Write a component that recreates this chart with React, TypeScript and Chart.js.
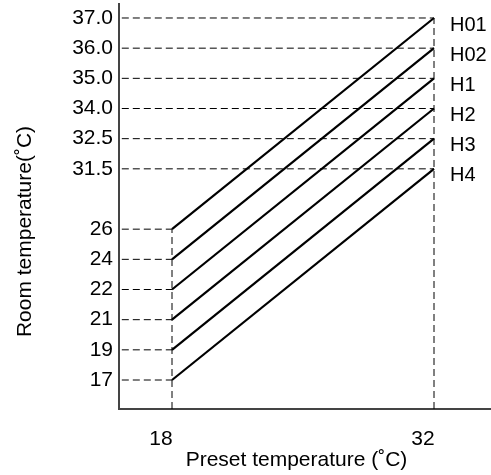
import React, { useEffect, useRef } from "react";
import { Chart, registerables } from "chart.js";

Chart.register(...registerables);

// ---- data ----
const seriesNames = ["H01", "H02", "H1", "H2", "H3", "H4"];
const startRoomTemps = [26, 24, 22, 21, 19, 17]; // at preset 18
const endRoomTemps = [37, 36, 35, 34, 32.5, 31.5]; // at preset 32
const presetTemps = [18, 32];
const xTickValues = [18, 32];
const yTickValues = [17, 19, 21, 22, 24, 26, 31.5, 32.5, 34, 35, 36, 37];
const yTickLabels = ["17", "19", "21", "22", "24", "26", "31.5", "32.5", "34.0", "35.0", "36.0", "37.0"];
// schematic axis: each tick value sits on an evenly spaced slot (gap between 26 and 31.5)
const yTickSlots = [0, 1, 2, 3, 4, 5, 7, 8, 9, 10, 11, 12];
const lowLevels = [26, 24, 22, 21, 19, 17];
const highLevels = [37, 36, 35, 34, 32.5, 31.5];

const xTitle = "Preset temperature (˚C)";
const yTitle = "Room temperature(˚C)";

const X_MIN = 15.168;
const X_MAX = 34.992;
const Y_MIN = -0.961;
const Y_MAX = 12.464;

const FONT = "'Liberation Sans', Arial, Helvetica, sans-serif";

const slot = (v: number) => yTickSlots[yTickValues.indexOf(v)];

export default function App() {
  const ref = useRef<HTMLCanvasElement | null>(null);

  useEffect(() => {
    if (!ref.current) return;

    const dashStyle = {
      borderColor: "#000",
      borderWidth: 1,
      borderDash: [7, 4],
      pointRadius: 0,
      fill: false,
      clip: false as any,
      tension: 0,
    };

    const datasets: any[] = [];
    lowLevels.forEach((v) => {
      datasets.push({
        ...dashStyle,
        data: [
          { x: X_MIN + 0.15, y: slot(v) },
          { x: presetTemps[0], y: slot(v) },
        ],
      });
    });
    highLevels.forEach((v) => {
      datasets.push({
        ...dashStyle,
        data: [
          { x: X_MIN + 0.15, y: slot(v) },
          { x: presetTemps[1], y: slot(v) },
        ],
      });
    });
    datasets.push({
      ...dashStyle,
      data: [
        { x: presetTemps[0], y: Y_MIN },
        { x: presetTemps[0], y: slot(Math.max(...startRoomTemps)) },
      ],
    });
    datasets.push({
      ...dashStyle,
      data: [
        { x: presetTemps[1], y: Y_MIN },
        { x: presetTemps[1], y: slot(Math.max(...endRoomTemps)) },
      ],
    });
    seriesNames.forEach((name, i) => {
      datasets.push({
        label: name,
        borderColor: "#000",
        borderWidth: 2.2,
        pointRadius: 0,
        fill: false,
        clip: false,
        tension: 0,
        data: [
          { x: presetTemps[0], y: slot(startRoomTemps[i]) },
          { x: presetTemps[1], y: slot(endRoomTemps[i]) },
        ],
      });
    });

    const annot = {
      id: "annot",
      afterDraw(chart: any) {
        const { ctx, scales, chartArea } = chart;
        const x = scales.x;
        const y = scales.y;
        ctx.save();
        ctx.fillStyle = "#000";
        ctx.font = `20px ${FONT}`;
        ctx.textBaseline = "middle";
        ctx.textAlign = "left";
        seriesNames.forEach((n, i) => {
          ctx.fillText(
            n,
            x.getPixelForValue(presetTemps[1]) + 16,
            y.getPixelForValue(slot(endRoomTemps[i])) + 7
          );
        });
        ctx.font = `21px ${FONT}`;
        ctx.textAlign = "center";
        ctx.fillText(xTitle, (chartArea.left + chartArea.right) / 2 - 8, chartArea.bottom + 51);
        ctx.translate(25, (chartArea.top + chartArea.bottom) / 2 + 25);
        ctx.rotate(-Math.PI / 2);
        ctx.fillText(yTitle, 0, 0);
        ctx.restore();
      },
    };

    const chart = new Chart(ref.current, {
      type: "line",
      data: { datasets },
      plugins: [annot],
      options: {
        animation: false,
        responsive: true,
        maintainAspectRatio: false,
        layout: { padding: { top: 4, right: 1, left: 0, bottom: 0 } },
        plugins: {
          legend: { display: false },
          tooltip: { enabled: false },
        },
        scales: {
          x: {
            type: "linear",
            min: X_MIN,
            max: X_MAX,
            grid: { display: false, drawTicks: false },
            border: { display: true, color: "#444", width: 2 },
            afterBuildTicks: (s: any) => {
              s.ticks = xTickValues.map((v) => ({ value: v }));
            },
            afterFit: (s: any) => {
              s.height = 66;
              s.paddingLeft = 0;
              s.paddingRight = 0;
            },
            ticks: {
              color: "#000",
              font: { family: FONT, size: 21 },
              padding: 18,
              labelOffset: -11,
              maxRotation: 0,
              autoSkip: false,
              callback: (v: any) => String(v),
            },
          },
          y: {
            type: "linear",
            min: Y_MIN,
            max: Y_MAX,
            grid: { display: false, drawTicks: false },
            border: { display: true, color: "#444", width: 2 },
            afterBuildTicks: (s: any) => {
              s.ticks = yTickSlots.map((v) => ({ value: v }));
            },
            afterFit: (s: any) => {
              s.width = 119;
              s.paddingTop = 0;
              s.paddingBottom = 0;
            },
            ticks: {
              color: "#000",
              font: { family: FONT, size: 21 },
              padding: 6,
              autoSkip: false,
              callback: (v: any) => {
                const idx = yTickSlots.indexOf(Number(v));
                return idx >= 0 ? yTickLabels[idx] : "";
              },
            },
          },
        },
      } as any,
    });

    return () => chart.destroy();
  }, []);

  return (
    <div style={{ position: "fixed", left: 0, top: 0, width: 491, height: 475, background: "#fff" }}>
      <canvas ref={ref} />
    </div>
  );
}
